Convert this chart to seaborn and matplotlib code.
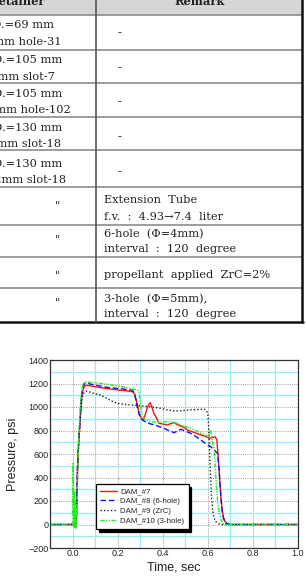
import numpy as np
import pandas as pd
import matplotlib
matplotlib.use("Agg")
import matplotlib.pyplot as plt
import seaborn as sns
from matplotlib.ticker import MultipleLocator

# ---- table text (the left column is cut off at the page edge) ----
header = ["Retainer", "Remark"]
retainer_text = [
    ("I.D.=69 mm", "4mm hole-31"),
    ("I.D.=105 mm", "10mm slot-7"),
    ("I.D.=105 mm", "4mm hole-102"),
    ("I.D.=130 mm", "10mm slot-18"),
    ("I.D.=130 mm", "12mm slot-18"),
]
ditto = '"'
remark_text = [
    ["-"], ["-"], ["-"], ["-"], ["-"],
    ["Extension  Tube", "f.v.  :  4.93\u21927.4  liter"],
    ["6-hole  (\u03a6=4mm)", "interval  :  120  degree"],
    ["propellant  applied  ZrC=2%"],
    ["3-hole  (\u03a6=5mm),", "interval  :  120  degree"],
]

# ---- pressure traces ----
labels = ["DAM_#7", "DAM_#8 (6-hole)", "DAM_#9 (ZrC)", "DAM_#10 (3-hole)"]

t7 = [-0.10, 0.010, 0.014, 0.018, 0.022, 0.027, 0.033, 0.038, 0.043, 0.050, 0.057, 0.08, 0.124,
      0.16, 0.20, 0.24, 0.265, 0.275, 0.285, 0.295, 0.305, 0.312, 0.32, 0.33, 0.338, 0.344, 0.35,
      0.36, 0.369, 0.384, 0.40, 0.42, 0.435, 0.45, 0.465, 0.48, 0.495, 0.51, 0.53, 0.55, 0.569,
      0.59, 0.606, 0.62, 0.632, 0.64, 0.646, 0.652, 0.658, 0.664, 0.67, 0.678, 0.686, 0.70, 1.00]
p7 = [0, 0, -20, 100, 420, 690, 870, 1030, 1120, 1165, 1185, 1180, 1165,
      1155, 1145, 1138, 1130, 1110, 1040, 950, 905, 890, 920, 985, 1020, 1037, 1010,
      950, 918, 861, 855, 847, 858, 867, 850, 838, 825, 804, 790, 775, 762,
      750, 733, 740, 747, 720, 580, 400, 230, 120, 55, 20, 5, 0, 0]

t8 = [-0.10, 0.010, 0.013, 0.017, 0.021, 0.027, 0.033, 0.038, 0.043, 0.050, 0.057, 0.08, 0.124,
      0.16, 0.20, 0.24, 0.265, 0.275, 0.285, 0.295, 0.302, 0.31, 0.32, 0.33, 0.347, 0.36, 0.37,
      0.39, 0.406, 0.42, 0.435, 0.45, 0.465, 0.48, 0.50, 0.524, 0.55, 0.569, 0.59, 0.613, 0.63,
      0.643, 0.65, 0.655, 0.66, 0.665, 0.67, 0.678, 0.69, 0.70, 1.00]
p8 = [0, 0, -20, 80, 464, 700, 889, 1050, 1145, 1190, 1205, 1195, 1178,
      1165, 1158, 1150, 1142, 1120, 1020, 940, 904, 890, 878, 868, 855, 850, 843,
      830, 819, 804, 795, 781, 795, 810, 795, 776, 745, 719, 690, 662, 630,
      606, 470, 320, 190, 100, 50, 18, 4, 0, 0]

t9 = [-0.10, 0.010, 0.014, 0.018, 0.021, 0.027, 0.033, 0.038, 0.043, 0.050, 0.060, 0.08, 0.10,
      0.124, 0.15, 0.18, 0.20, 0.23, 0.27, 0.30, 0.33, 0.36, 0.39, 0.42, 0.45, 0.48, 0.51,
      0.55, 0.584, 0.594, 0.600, 0.604, 0.608, 0.612, 0.616, 0.621, 0.627, 0.635, 0.645, 0.66, 1.00]
p9 = [0, 0, -15, 120, 440, 680, 850, 990, 1080, 1120, 1135, 1125, 1112,
      1102, 1075, 1045, 1031, 1022, 1015, 1010, 1005, 998, 989, 975, 966, 968, 974,
      978, 982, 970, 940, 820, 620, 420, 250, 130, 60, 25, 8, 0, 0]

t10 = [-0.10, 0.000, 0.002, 0.004, 0.005, 0.007, 0.009, 0.011, 0.013, 0.015, 0.017, 0.019,
       0.022, 0.026, 0.030, 0.034, 0.038, 0.042, 0.048, 0.055, 0.08, 0.124, 0.16, 0.20, 0.24,
       0.272, 0.29, 0.295, 0.30, 0.305, 0.31, 0.317, 0.33, 0.347, 0.38, 0.42, 0.44, 0.465,
       0.49, 0.524, 0.55, 0.569, 0.59, 0.60, 0.606, 0.612, 0.617, 0.622, 0.628, 0.633, 0.638,
       0.643, 0.65, 0.657, 0.665, 0.675, 1.00]
p10 = [0, 0, 520, 80, 300, -30, 280, 20, 200, -40, 150, 60,
       380, 650, 850, 1000, 1100, 1160, 1200, 1215, 1210, 1201, 1192, 1180, 1165,
       1150, 1145, 1120, 1050, 980, 930, 904, 885, 875, 870, 875, 872, 861,
       840, 819, 795, 776, 760, 747, 770, 805, 760, 690, 640, 500, 330,
       200, 110, 50, 15, 0, 0]

series_t = [t7, t8, t9, t10]
series_p = [p7, p8, p9, p10]
colors = ["#ff1010", "#1010ff", "#202020", "#22ee22"]
styles = ["-", (0, (4, 2)), (0, (1, 1.5)), (0, (3, 1, 1, 1, 1, 1))]

frames = []
for lab, tt, pp in zip(labels, series_t, series_p):
    frames.append(pd.DataFrame({"time": tt, "pressure": pp, "test": lab}))
df = pd.concat(frames, ignore_index=True)

sns.set_style("white")
plt.rcParams["font.family"] = ["Liberation Sans", "DejaVu Sans"]

W, H = 306, 580
fig = plt.figure(figsize=(W / 100, H / 100), dpi=100)

# ---- table, drawn in pixel coordinates ----
tab = fig.add_axes([0, 0, 1, 1], zorder=0)
tab.set_xlim(0, W)
tab.set_ylim(H, 0)
tab.axis("off")

col_x = 96
right_x = 302
row_y = [15, 50, 83, 117, 150, 187, 225, 257, 288, 322]

tab.add_patch(plt.Rectangle((0, 0), right_x, 15, facecolor="#d6d6d6", edgecolor="none"))
for y in row_y[:-1]:
    tab.plot([0, right_x], [y, y], color="#8c8c8c", lw=1.2)
tab.plot([0, right_x + 1], [row_y[-1], row_y[-1]], color="#111111", lw=1.8)
tab.plot([col_x, col_x], [0, row_y[-1]], color="#555555", lw=1.2)
tab.plot([right_x, right_x], [0, row_y[-1]], color="#111111", lw=1.8)

serif = dict(family="DejaVu Serif", fontsize=8.2, color="#222222")
tab.text(45, 5, header[0], ha="right", va="baseline", fontweight="bold", **serif)
tab.text(200, 5, header[1], ha="center", va="baseline", fontweight="bold", **serif)

left_ends = [(54, 62), (62, 55), (62, 71), (62, 61), (62, 66)]
left_base = [(28, 45), (63, 80), (97, 113), (131, 147), (167, 183)]
for (a, b), (xa, xb), (ya, yb) in zip(retainer_text, left_ends, left_base):
    tab.text(xa, ya, a, ha="right", va="baseline", **serif)
    tab.text(xb, yb, b, ha="right", va="baseline", **serif)

for yc in [203, 237, 273, 300]:
    tab.text(58, yc + 6, ditto, ha="center", va="baseline", **serif)

remark_base = [[36], [71], [105], [140], [175], [203, 220], [237, 252], [278], [302, 317]]
for lines, bases in zip(remark_text, remark_base):
    for s, yb in zip(lines, bases):
        x0 = 118 if s == "-" else 104
        tab.text(x0, yb, s, ha="left", va="baseline", **serif)

# ---- pressure chart ----
ax = fig.add_axes([50 / W, (H - 548) / H, 248 / W, 188 / H], zorder=2)
ax.set_facecolor("white")
for lab, c, ls in zip(labels, colors, styles):
    sub = df[df["test"] == lab]
    sns.lineplot(data=sub, x="time", y="pressure", color=c, linestyle=ls, lw=1.0,
                 sort=False, estimator=None, label=lab, ax=ax)

ax.set_xlim(-0.1, 1.0)
ax.set_ylim(-200, 1400)
ax.set_xticks([0.0, 0.2, 0.4, 0.6, 0.8, 1.0])
ax.set_xticklabels(["0.0", "0.2", "0.4", "0.6", "0.8", "1.0"])
ax.set_yticks(np.arange(-200, 1401, 200))
ax.xaxis.set_minor_locator(MultipleLocator(0.1))
ax.yaxis.set_minor_locator(MultipleLocator(100))
ax.grid(which="minor", color="#8ff0fb", lw=0.9, ls="-")
ax.grid(which="major", color="#9a9a9a", lw=0.7, ls=(0, (1, 1.2)))
ax.set_axisbelow(True)
ax.tick_params(which="both", length=0, labelsize=6.5, pad=1, colors="#222222")
for sp in ax.spines.values():
    sp.set_color("#333333")
    sp.set_linewidth(0.9)

ax.set_xlabel("Time, sec", fontsize=9, color="#222222")
ax.set_ylabel("Pressure, psi", fontsize=9, color="#222222")
ax.xaxis.set_label_coords(0.5, -0.07)
ax.yaxis.set_label_coords(-0.125, 0.5)

leg = ax.legend(loc="lower left", bbox_to_anchor=(0.185, 0.101), borderaxespad=0,
                fontsize=5.7, handlelength=2.2, handletextpad=0.4, borderpad=0.5,
                labelspacing=0.3, fancybox=False, framealpha=1, edgecolor="black",
                shadow={"color": "black", "alpha": 1.0})
leg.get_frame().set_linewidth(0.9)

fig.savefig("out.png", dpi=100)
plt.close(fig)
